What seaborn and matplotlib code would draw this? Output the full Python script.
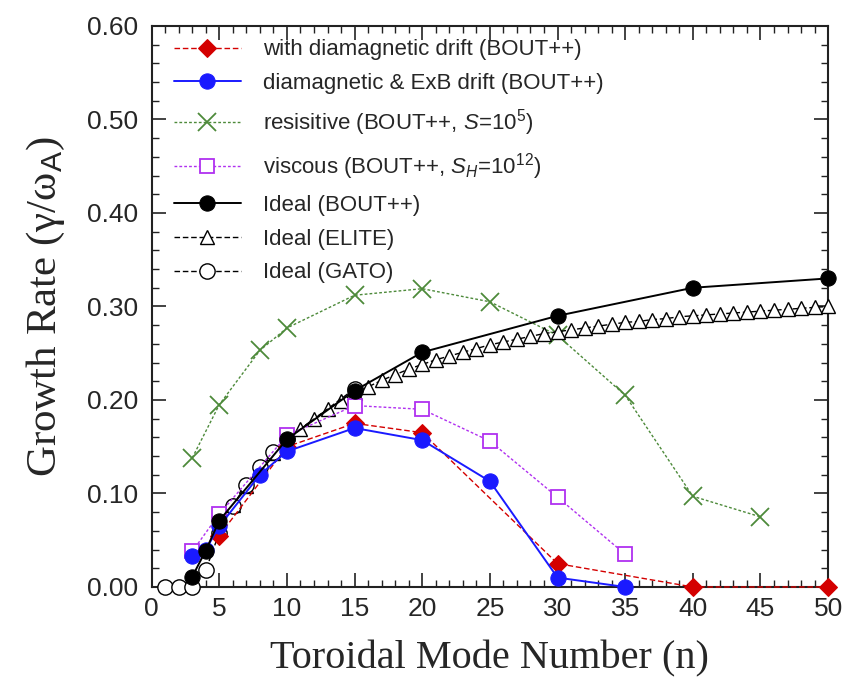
import numpy as np
import pandas as pd
import matplotlib
matplotlib.use("Agg")
import matplotlib.pyplot as plt
import seaborn as sns
from matplotlib.ticker import MultipleLocator, FormatStrFormatter

# --- data ---
n_dia = [5, 10, 15, 20, 30, 40, 50]
g_dia = [0.055, 0.150, 0.175, 0.165, 0.025, 0.0, 0.0]

n_exb = [3, 4, 5, 8, 10, 15, 20, 25, 30, 35]
g_exb = [0.033, 0.040, 0.065, 0.120, 0.145, 0.170, 0.157, 0.113, 0.010, 0.0]

n_res = [3, 5, 8, 10, 15, 20, 25, 30, 35, 40, 45]
g_res = [0.138, 0.195, 0.253, 0.277, 0.312, 0.319, 0.305, 0.269, 0.205, 0.097, 0.075]

n_visc = [3, 5, 10, 15, 20, 25, 30, 35]
g_visc = [0.038, 0.078, 0.162, 0.194, 0.190, 0.156, 0.096, 0.035]

n_ideal = [3, 4, 5, 10, 15, 20, 30, 40, 50]
g_ideal = [0.011, 0.039, 0.071, 0.158, 0.210, 0.251, 0.290, 0.320, 0.330]

n_elite = list(range(5, 51))
g_elite = [0.065, 0.088, 0.108, 0.127, 0.143, 0.157, 0.169, 0.180, 0.190, 0.199,
           0.207, 0.214, 0.221, 0.227, 0.233, 0.238, 0.243, 0.247, 0.251, 0.255,
           0.259, 0.262, 0.265, 0.268, 0.271, 0.273, 0.275, 0.277, 0.279, 0.281,
           0.283, 0.284, 0.286, 0.287, 0.289, 0.290, 0.291, 0.292, 0.293, 0.294,
           0.295, 0.296, 0.297, 0.298, 0.299, 0.300]

n_gato = [1, 2, 3, 4, 5, 6, 7, 8, 9, 10, 15]
g_gato = [0.0, 0.0, 0.0, 0.018, 0.058, 0.087, 0.109, 0.128, 0.144, 0.158, 0.212]

sns.set_theme(style="ticks")
plt.rcParams['font.family'] = ['Liberation Sans', 'DejaVu Sans']
plt.rcParams['mathtext.fontset'] = 'custom'
plt.rcParams['mathtext.rm'] = 'Liberation Sans'
plt.rcParams['mathtext.it'] = 'Liberation Sans:italic'

fig = plt.figure(figsize=(8.52, 6.83), dpi=100)
ax = fig.add_axes([0.178, 0.1406, 0.794, 0.8214])

# series drawn one by one so each keeps its own style
common = dict(ax=ax, clip_on=False)
sns.lineplot(x=n_dia, y=g_dia, color='#d40000', lw=1.0, ls=(0, (4, 2)),
             marker='D', ms=9, mec='#d40000', mfc='#d40000',
             label='with diamagnetic drift (BOUT++)', zorder=4, **common)
sns.lineplot(x=n_exb, y=g_exb, color='#1a1aff', lw=1.4, ls='-',
             marker='o', ms=11, mec='#1a1aff', mfc='#1a1aff',
             label='diamagnetic & ExB drift (BOUT++)', zorder=5, **common)
sns.lineplot(x=n_res, y=g_res, color='#4d8a3a', lw=1.0, ls=(0, (2, 1.5)),
             marker='x', ms=13, mew=1.3, mec='#4d8a3a',
             label='resisitive (BOUT++, $S$=10$^5$)', zorder=3, **common)
sns.lineplot(x=n_visc, y=g_visc, color='#b030f0', lw=1.0, ls=(0, (2, 1.5)),
             marker='s', ms=10, mew=1.3, mec='#b030f0', mfc='white',
             label='viscous (BOUT++, $S_H$=10$^{12}$)', zorder=4, **common)
sns.lineplot(x=n_ideal, y=g_ideal, color='black', lw=1.4, ls='-',
             marker='o', ms=11, mec='black', mfc='black',
             label='Ideal (BOUT++)', zorder=6, **common)
sns.lineplot(x=n_elite, y=g_elite, color='black', lw=1.0, ls=(0, (4, 2)),
             marker='^', ms=10, mew=1.0, mec='black', mfc='white',
             label='Ideal (ELITE)', zorder=3, **common)
sns.lineplot(x=n_gato, y=g_gato, color='black', lw=1.0, ls=(0, (4, 2)),
             marker='o', ms=11, mew=1.0, mec='black', mfc='white',
             label='Ideal (GATO)', zorder=3, **common)

ax.set_xlim(0, 50)
ax.set_ylim(0, 0.60)
ax.xaxis.set_major_locator(MultipleLocator(5))
ax.xaxis.set_minor_locator(MultipleLocator(1))
ax.yaxis.set_major_locator(MultipleLocator(0.1))
ax.yaxis.set_minor_locator(MultipleLocator(0.02))
ax.yaxis.set_major_formatter(FormatStrFormatter('%.2f'))
ax.tick_params(which='both', direction='in', top=True, right=True, color='#222222')
ax.tick_params(which='major', length=10, width=1.2, labelsize=19)
ax.tick_params(axis='y', which='major', pad=10)
ax.tick_params(axis='x', which='major', pad=7)
ax.tick_params(which='minor', length=5, width=1.0)
for s in ax.spines.values():
    s.set_linewidth(1.5)
    s.set_color('#222222')

ax.set_xlabel('Toroidal Mode Number (n)', fontsize=29, family='Liberation Serif', labelpad=14)
ax.set_ylabel('Growth Rate (γ/ω$_{\\mathrm{A}}$)', fontsize=31, family='Liberation Serif', labelpad=14)

leg = ax.legend(loc='upper left', frameon=False, fontsize=16, handlelength=3.0,
                handletextpad=1.0, labelspacing=0.58, borderaxespad=0.0,
                bbox_to_anchor=(0.02, 0.992))

fig.savefig('out.png', dpi=100)
